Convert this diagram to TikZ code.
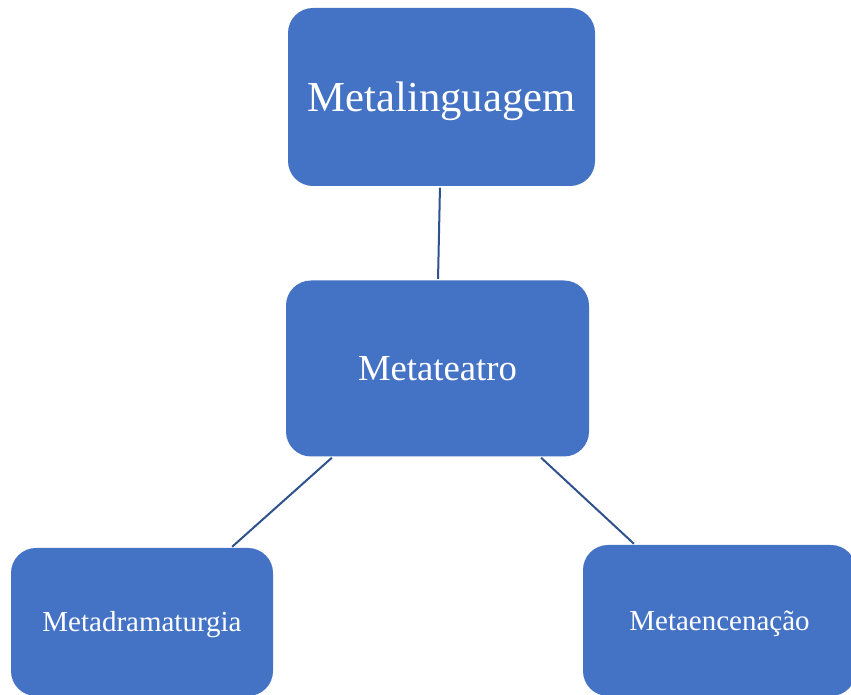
\documentclass[tikz,border=0pt]{standalone}
\usepackage{fontspec}
\setmainfont{Liberation Serif}
\usepackage{tikz}
\definecolor{boxBlue}{HTML}{4472C4}
\definecolor{lineBlue}{HTML}{2F528F}
\tikzstyle{metaBox} = [rectangle, rounded corners=25pt, fill=boxBlue,
   text=white, inner sep=0pt]
\tikzstyle{bigText} = [font=\fontsize{42.7}{50}\selectfont, text height=38pt, text depth=9.2pt]
\tikzstyle{midText} = [font=\fontsize{36.7}{44}\selectfont, text height=32.7pt, text depth=7.9pt]
\tikzstyle{smallText} = [font=\fontsize{29}{35}\selectfont, text height=25.8pt, text depth=6.3pt]
\tikzstyle{metaLink} = [lineBlue, line width=2pt, shorten >= 1.5pt, shorten <= 1.5pt]

\begin{document}
\begin{tikzpicture}[x=1pt,y=1pt]
  			\useasboundingbox (0,0) rectangle (851,695);
  			\node[metaBox, bigText, minimum width=307pt, minimum height=178pt]
  			  (lingua) at (441.5,598) {Metalinguagem};

	  		\node[metaBox, midText, minimum width=303pt, minimum height=176pt]
	  		  (teatro) at (437.5,326.5) {Metateatro};
  			\node[metaBox, smallText, minimum width=262pt, minimum height=148pt]
  			  (drama) at (142,73) {Metadramaturgia};
			\node[metaBox, smallText, minimum width=273pt, minimum height=151pt]
			  (encena) at (719.5,74.5) {Metaencenação};

  			% connectors between the boxes
  			\draw[metaLink] ([xshift=-1.5pt]lingua.south) to ([xshift=0.5pt]teatro.north);
  			\draw[metaLink] ([xshift=-104.5pt]teatro.south) to ([xshift=89pt]drama.north);
			\draw[metaLink] ([xshift=102.5pt]teatro.south) to ([xshift=-84.5pt]encena.north);
		\end{tikzpicture}
\end{document}
